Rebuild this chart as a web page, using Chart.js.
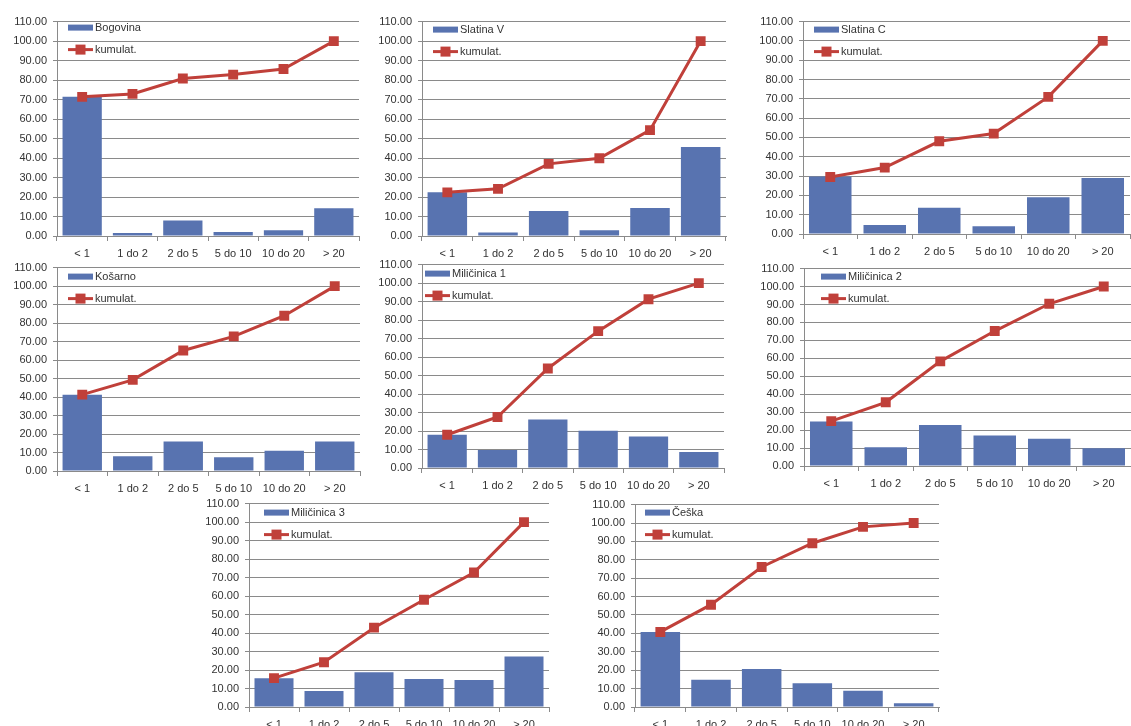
<!DOCTYPE html>
<html>
<head>
<meta charset="utf-8">
<script src="https://cdn.jsdelivr.net/npm/chart.js@4.4.0/dist/chart.umd.min.js"></script>
<style>
  html, body { margin: 0; padding: 0; background: #ffffff; overflow: hidden; }
  body { width: 1131px; height: 726px; position: relative; }
  canvas { position: absolute; }
</style>
</head>
<body>
<script>
// ---- DATA ----
const categories = ["< 1", "1 do 2", "2 do 5", "5 do 10", "10 do 20", "> 20"];
const cumulLabel = "kumulat.";

const bogovinaPct = [71.4, 1.5, 7.9, 2.0, 2.9, 14.3];
const bogovinaCum = [71.4, 72.9, 80.8, 82.8, 85.7, 100];

const slatinaVPct = [22.4, 1.8, 12.8, 2.9, 14.4, 45.7];
const slatinaVCum = [22.4, 24.2, 37.0, 39.9, 54.3, 100];

const slatinaCPct = [29.8, 4.7, 13.6, 4.0, 19.0, 29.0];
const slatinaCCum = [29.5, 34.4, 48.0, 52.0, 71.0, 100];

const kosarnoPct = [41.3, 8.0, 15.9, 7.5, 11.0, 16.0];
const kosarnoCum = [41.3, 49.3, 65.2, 72.8, 84.0, 100];

const milicinica1Pct = [18.0, 9.7, 26.2, 20.1, 17.1, 8.7];
const milicinica1Cum = [18.0, 27.6, 53.8, 74.0, 91.3, 100];

const milicinica2Pct = [24.8, 10.5, 22.8, 17.0, 15.2, 9.9];
const milicinica2Cum = [25.0, 35.5, 58.3, 75.2, 90.4, 100];

const milicinica3Pct = [15.6, 8.6, 18.8, 15.1, 14.6, 27.3];
const milicinica3Cum = [15.6, 24.2, 42.9, 58.0, 72.7, 100];

const ceskaPct = [40.8, 14.8, 20.6, 12.9, 8.8, 2.1];
const ceskaCum = [40.8, 55.6, 76.1, 89.0, 97.9, 100];

const siteNames = ["Bogovina", "Slatina V", "Slatina C", "Košarno", "Miličinica 1", "Miličinica 2", "Miličinica 3", "Češka"];
const sitePct = [bogovinaPct, slatinaVPct, slatinaCPct, kosarnoPct, milicinica1Pct, milicinica2Pct, milicinica3Pct, ceskaPct];
const siteCum = [bogovinaCum, slatinaVCum, slatinaCCum, kosarnoCum, milicinica1Cum, milicinica2Cum, milicinica3Cum, ceskaCum];

// ---- LAYOUT (plot-area placement of each panel) ----
const panels = [
  { axisX: 57,  right: 362,  top: 21,  zero: 236, legX: 11, legY: 6 },
  { axisX: 422, right: 729,  top: 21,  zero: 236, legX: 11, legY: 8 },
  { axisX: 803, right: 1133, top: 21,  zero: 234, legX: 11, legY: 8 },
  { axisX: 57,  right: 363,  top: 267, zero: 471, legX: 11, legY: 9 },
  { axisX: 422, right: 727,  top: 264, zero: 468, legX: 3,  legY: 9 },
  { axisX: 804, right: 1134, top: 268, zero: 466, legX: 17, legY: 8 },
  { axisX: 249, right: 552,  top: 503, zero: 707, legX: 15, legY: 9 },
  { axisX: 635, right: 942,  top: 504, zero: 707, legX: 10, legY: 8 }
];

const BAR = "#5873B0";
const RED = "#C0403A";
const GRID = "#8A8A8A";
const TEXT = "#333333";
const FONT = "'Liberation Sans', Arial, sans-serif";
const Y_W = 57, PAD_T = 8, EXTRA_T = 4, PAD_R = 4, X_H = 26;

const insideLegend = {
  id: "insideLegend",
  afterDraw(chart) {
    const ctx = chart.ctx;
    const a = chart.chartArea;
    const p = chart.options.plugins.insideLegend;
    const x0 = a.left + p.legX;
    const ds = chart.data.datasets;
    ctx.save();
    ctx.font = "11px " + FONT;
    ctx.textBaseline = "middle";
    // bar entry
    const y1 = a.top + p.legY;
    ctx.fillStyle = BAR;
    ctx.fillRect(x0, y1 - 3, 25, 6);
    ctx.fillStyle = TEXT;
    ctx.fillText(ds[0].label, x0 + 27, y1);
    // line entry
    const y2 = y1 + 22;
    ctx.strokeStyle = RED;
    ctx.lineWidth = 3;
    ctx.beginPath();
    ctx.moveTo(x0, y2);
    ctx.lineTo(x0 + 25, y2);
    ctx.stroke();
    ctx.fillStyle = RED;
    ctx.fillRect(x0 + 12.5 - 5, y2 - 5, 10, 10);
    ctx.fillStyle = TEXT;
    ctx.fillText(ds[1].label, x0 + 27, y2);
    ctx.restore();
  }
};

panels.forEach((p, i) => {
  const cv = document.createElement("canvas");
  const w = Y_W + (p.right - p.axisX) + PAD_R;
  const h = PAD_T + EXTRA_T + (p.zero - p.top) + X_H;
  cv.width = w; cv.height = h;
  cv.style.width = w + "px"; cv.style.height = h + "px";
  cv.style.left = (p.axisX - Y_W) + "px";
  cv.style.top = (p.top - PAD_T - EXTRA_T) + "px";
  document.body.appendChild(cv);

  new Chart(cv.getContext("2d"), {
    type: "bar",
    data: {
      labels: categories,
      datasets: [
        {
          type: "bar",
          label: siteNames[i],
          data: sitePct[i],
          backgroundColor: BAR,
          borderWidth: 0,
          barPercentage: 1,
          categoryPercentage: 0.78,
          order: 1
        },
        {
          type: "line",
          label: cumulLabel,
          data: siteCum[i],
          borderColor: RED,
          borderWidth: 3,
          backgroundColor: RED,
          pointStyle: "rect",
          pointRadius: 7,
          pointBorderWidth: 0,
          pointBackgroundColor: RED,
          tension: 0,
          fill: false,
          order: 0
        }
      ]
    },
    options: {
      responsive: false,
      animation: false,
      devicePixelRatio: 1,
      layout: { padding: { top: PAD_T, right: PAD_R, left: 0, bottom: 0 } },
      plugins: {
        legend: { display: false },
        tooltip: { enabled: false },
        insideLegend: { legX: p.legX, legY: p.legY }
      },
      scales: {
        x: {
          offset: true,
          grid: {
            offset: true,
            drawOnChartArea: false,
            drawTicks: true,
            tickLength: 5,
            color: GRID,
            lineWidth: 1
          },
          border: { display: true, color: GRID, width: 1 },
          ticks: {
            color: TEXT,
            font: { family: FONT, size: 11 },
            padding: 6,
            maxRotation: 0,
            autoSkip: false
          },
          afterFit: (s) => { s.height = X_H; }
        },
        y: {
          min: 0,
          max: 110,
          grid: {
            color: GRID,
            lineWidth: 1,
            drawTicks: true,
            tickLength: 4
          },
          border: { display: true, color: GRID, width: 1 },
          ticks: {
            stepSize: 10,
            color: TEXT,
            font: { family: FONT, size: 11 },
            padding: 6,
            callback: (v) => Number(v).toFixed(2)
          },
          afterFit: (s) => { s.width = Y_W; }
        }
      }
    },
    plugins: [insideLegend]
  });
});
</script>
</body>
</html>
